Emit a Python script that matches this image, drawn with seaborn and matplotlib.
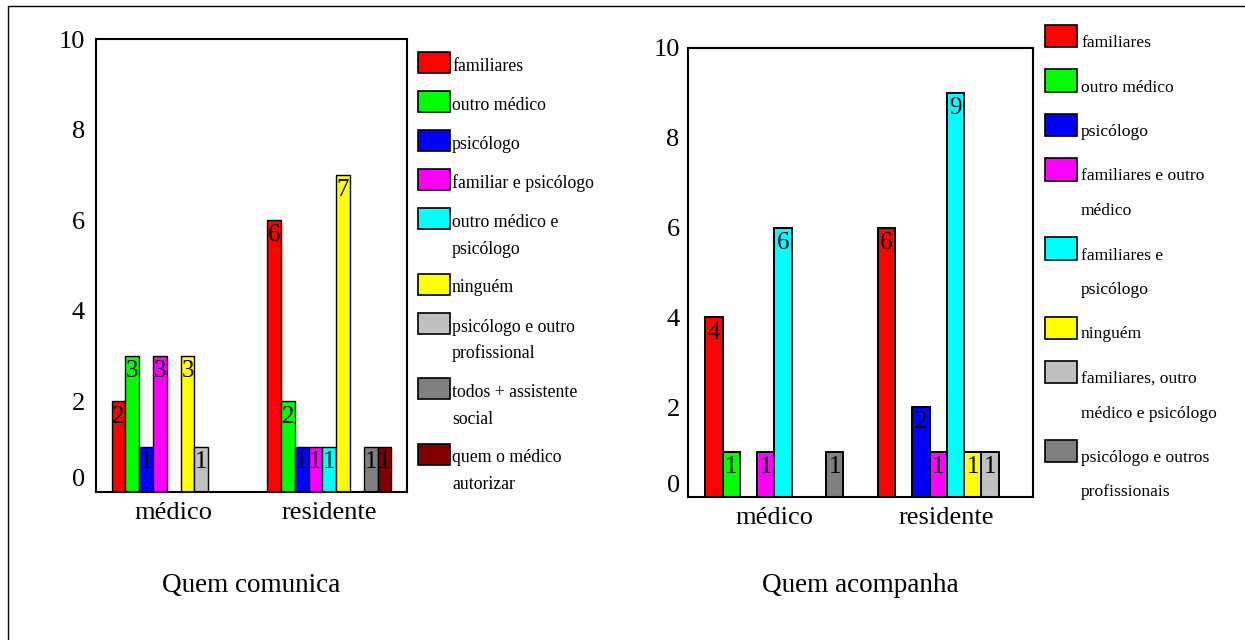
import matplotlib
matplotlib.use("Agg")
import matplotlib.pyplot as plt
import matplotlib.transforms as mtransforms
from matplotlib.patches import Rectangle
from matplotlib.lines import Line2D
import seaborn as sns
import pandas as pd

# ---- data -------------------------------------------------------------
groups = ["médico", "residente"]

comunica_categories = [
    "familiares", "outro médico", "psicólogo", "familiar e psicólogo",
    "outro médico e\npsicólogo", "ninguém", "psicólogo e outro\nprofissional",
    "todos + assistente\nsocial", "quem o médico\nautorizar",
]
comunica_medico = [2, 3, 1, 3, 0, 3, 1, 0, 0]
comunica_residente = [6, 2, 1, 1, 1, 7, 0, 1, 1]
comunica_colors = ["#FF0000", "#00FF00", "#0000FF", "#FF00FF", "#00FFFF",
                   "#FFFF00", "#C0C0C0", "#808080", "#800000"]

acompanha_categories = [
    "familiares", "outro médico", "psicólogo", "familiares e outro\nmédico",
    "familiares e\npsicólogo", "ninguém", "familiares, outro\nmédico e psicólogo",
    "psicólogo e outros\nprofissionais",
]
acompanha_medico = [4, 1, 0, 1, 6, 0, 0, 1]
acompanha_residente = [6, 0, 2, 1, 9, 1, 1, 0]
acompanha_colors = ["#FF0000", "#00FF00", "#0000FF", "#FF00FF", "#00FFFF",
                    "#FFFF00", "#C0C0C0", "#808080"]

titles = ["Quem comunica", "Quem acompanha"]

# ---- style --------------------------------------------------------------
sns.set_style("white")
plt.rcParams["font.family"] = ["Liberation Serif", "DejaVu Serif"]
plt.rcParams["text.color"] = "black"

W, H = 1245, 640
fig = plt.figure(figsize=(W / 100, H / 100), dpi=100)


def px_axes(left, top, right, bottom):
    return fig.add_axes([left / W, 1 - bottom / H, (right - left) / W, (bottom - top) / H])


def long_table(categories, medico, residente):
    rows = []
    for grp, vals in zip(groups, [medico, residente]):
        for cat, v in zip(categories, vals):
            if v > 0:
                rows.append({"grupo": grp, "categoria": cat, "n": v})
    return pd.DataFrame(rows)


def draw_panel(ax, categories, medico, residente, colors, edge_lw, ypad):
    df = long_table(categories, medico, residente)
    sns.barplot(data=df, x="grupo", y="n", hue="categoria", order=groups,
                hue_order=categories, palette=dict(zip(categories, colors)),
                width=0.8, errorbar=None, edgecolor="black", linewidth=edge_lw,
                saturation=1, legend=False, ax=ax)
    for container in ax.containers:
        for bar in container:
            h = bar.get_height()
            if h > 0:
                ax.annotate(f"{int(h)}", (bar.get_x() + bar.get_width() / 2, h),
                            xytext=(0, -3), textcoords="offset points",
                            ha="center", va="top", fontsize=18, color="black")
    ax.set_ylim(0, 10)
    ax.set_yticks(range(0, 11, 2))
    ax.set_xlabel("")
    ax.set_ylabel("")
    for s in ax.spines.values():
        s.set_visible(True)
        s.set_color("black")
        s.set_linewidth(1.5)
    ax.tick_params(axis="both", direction="out", length=2.5, width=2.5,
                   color="black", labelcolor="black", labelsize=19)
    ax.tick_params(axis="y", pad=ypad)
    ax.tick_params(axis="x", pad=5)
    # lift the zero label off the baseline
    zero = ax.yaxis.get_major_ticks()[0].label1
    zero.set_transform(zero.get_transform()
                       + mtransforms.ScaledTranslation(0, -0.14, fig.dpi_scale_trans).inverted())


def draw_key(categories, colors, x_patch, patch_w, patch_h, patch_drop,
             base_first, line_step, entry_step, text_x, fontsize):
    y = base_first
    for cat, col in zip(categories, colors):
        lines = cat.split("\n")
        bottom = y + patch_drop
        fig.add_artist(Rectangle((x_patch / W, 1 - bottom / H), patch_w / W, patch_h / H,
                                 transform=fig.transFigure, facecolor=col,
                                 edgecolor="black", linewidth=1.2))
        for i, line in enumerate(lines):
            fig.text(text_x / W, 1 - (y + i * line_step) / H, line,
                     ha="left", va="baseline", fontsize=fontsize, color="black")
        y += (len(lines) - 1) * line_step + entry_step


ax1 = px_axes(96, 39, 407, 492)
draw_panel(ax1, comunica_categories, comunica_medico, comunica_residente,
           comunica_colors, 1.0, 5.5)
draw_key(comunica_categories, comunica_colors, 418, 32, 21, 2,
         71, 26.5, 39, 452, 12.8)

ax2 = px_axes(688, 48, 1033, 497)
draw_panel(ax2, acompanha_categories, acompanha_medico, acompanha_residente,
           acompanha_colors, 1.4, 3.5)
draw_key(acompanha_categories, acompanha_colors, 1045, 32, 22, 0,
         47, 34.5, 44.5, 1081, 12.6)

fig.text(251.5 / W, 1 - 592 / H, titles[0], ha="center", va="baseline",
         fontsize=19.5, color="black")
fig.text(860.5 / W, 1 - 592 / H, titles[1], ha="center", va="baseline",
         fontsize=19.5, color="black")

# page frame
fig.add_artist(Line2D([8 / W, 8 / W], [0, 1 - 6 / H], transform=fig.transFigure,
                      color="black", linewidth=1.0))
fig.add_artist(Line2D([8 / W, 1], [1 - 6 / H, 1 - 6 / H], transform=fig.transFigure,
                      color="black", linewidth=1.0))

fig.savefig("out.png", dpi=100, facecolor="white")
